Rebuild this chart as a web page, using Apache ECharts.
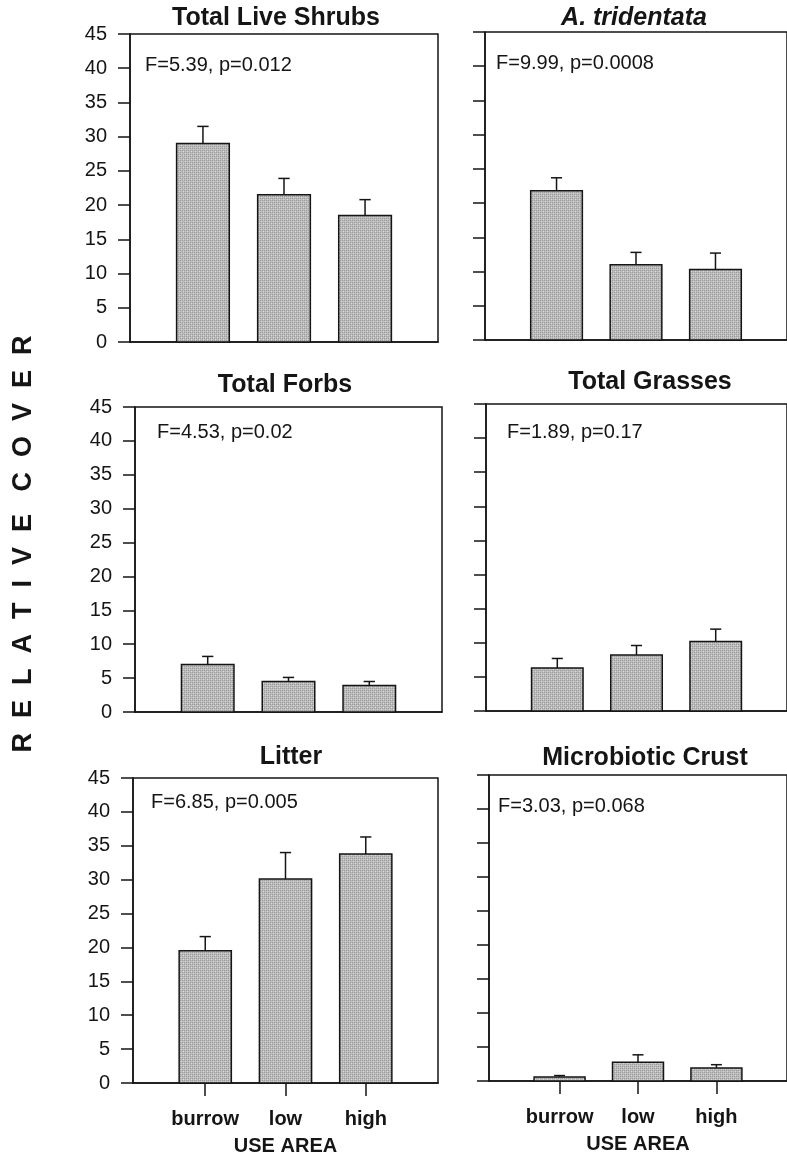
<!DOCTYPE html>
<html>
<head>
<meta charset="utf-8">
<script src="https://cdn.jsdelivr.net/npm/echarts@6/dist/echarts.min.js"></script>
<style>
html,body{margin:0;padding:0;background:#fff;}
#chart{width:787px;height:1157px;}
</style>
</head>
<body>
<div id="chart"></div>
<script>
// ---- data ----
const categories = ['burrow', 'low', 'high'];
const panelTitles = ['Total Live Shrubs', 'A. tridentata', 'Total Forbs', 'Total Grasses', 'Litter', 'Microbiotic Crust'];
const panelStats = ['F=5.39, p=0.012', 'F=9.99, p=0.0008', 'F=4.53, p=0.02', 'F=1.89, p=0.17', 'F=6.85, p=0.005', 'F=3.03, p=0.068'];
const shrubsMean = [29.0, 21.5, 18.5];
const shrubsSE = [2.5, 2.4, 2.3];
const tridentataMean = [21.8, 11.0, 10.3];
const tridentataSE = [1.9, 1.8, 2.4];
const forbsMean = [7.0, 4.5, 3.9];
const forbsSE = [1.2, 0.6, 0.6];
const grassesMean = [6.3, 8.2, 10.2];
const grassesSE = [1.4, 1.4, 1.8];
const litterMean = [19.5, 30.1, 33.8];
const litterSE = [2.1, 3.9, 2.5];
const crustMean = [0.6, 2.75, 1.9];
const crustSE = [0.2, 1.1, 0.5];
const yTicks = [0, 5, 10, 15, 20, 25, 30, 35, 40, 45];
const xAxisName = 'USE AREA';
const yAxisName = 'R  E  L  A  T  I  V  E   C  O  V  E  R';

const means = [shrubsMean, tridentataMean, forbsMean, grassesMean, litterMean, crustMean];
const ses = [shrubsSE, tridentataSE, forbsSE, grassesSE, litterSE, crustSE];

// ---- layout / style ----
const FONT = '"Liberation Sans", Arial, Helvetica, sans-serif';
const INK = '#151515';
const LW = 1.5;
const grids = [
  {left: 130, top: 34, width: 308, height: 308},
  {left: 485, top: 32, width: 306, height: 308},
  {left: 135, top: 407, width: 307, height: 305},
  {left: 486, top: 404, width: 306, height: 307},
  {left: 133, top: 778, width: 305, height: 306},
  {left: 489, top: 775, width: 305, height: 306}
];
const titlePos = [[276, 18], [634, 18], [285, 385], [650, 382], [291, 757], [645, 758]];
const statPos = [[145, 65], [496, 63], [157, 432], [507, 432], [151, 802], [498, 806]];

// stipple pattern for bars
const pc = document.createElement('canvas');
pc.width = 4; pc.height = 4;
const pctx = pc.getContext('2d');
pctx.fillStyle = '#bdbdbd'; pctx.fillRect(0, 0, 4, 4);
pctx.fillStyle = '#9a9a9a';
pctx.fillRect(0, 0, 1, 1); pctx.fillRect(2, 2, 1, 1); pctx.fillRect(2, 0, 1, 1); pctx.fillRect(0, 2, 1, 1);
pctx.fillStyle = '#d6d6d6';
pctx.fillRect(1, 1, 1, 1); pctx.fillRect(3, 3, 1, 1);
const barFill = {image: pc, repeat: 'repeat'};

const BAR_W = 0.65;   // fraction of category spacing
const CAP_W = 0.14;

const xAxes = [], yAxes = [], series = [], graphics = [];
for (let i = 0; i < 6; i++) {
  const bottomRow = i >= 4;
  const leftCol = i % 2 === 0;
  xAxes.push({
    type: 'value', gridIndex: i, min: -0.9, max: 2.9,
    axisLine: {show: true, onZero: false, lineStyle: {color: INK, width: LW}},
    axisTick: bottomRow ? {show: true, customValues: [0, 1, 2], length: 13, lineStyle: {color: INK, width: LW}} : {show: false},
    axisLabel: bottomRow ? {show: true, customValues: [0, 1, 2], formatter: v => categories[Math.round(v)] || '',
      fontFamily: FONT, fontSize: 20, fontWeight: 'bold', color: INK, margin: 26} : {show: false},
    splitLine: {show: false},
    name: bottomRow ? xAxisName : '',
    nameLocation: 'middle', nameGap: 53,
    nameTextStyle: {fontFamily: FONT, fontSize: 20, fontWeight: 'bold', color: INK}
  });
  yAxes.push({
    type: 'value', gridIndex: i, min: 0, max: 45, interval: 5,
    axisLine: {show: true, onZero: false, lineStyle: {color: INK, width: LW}},
    axisTick: {show: true, length: 12, lineStyle: {color: INK, width: LW}},
    axisLabel: {show: leftCol, fontFamily: FONT, fontSize: 20, color: INK, margin: 23,
      formatter: v => (yTicks.indexOf(v) >= 0 ? String(v) : '')},
    splitLine: {show: false}
  });
  const data = means[i].map((m, k) => [k, m, ses[i][k]]);
  series.push({
    type: 'custom', xAxisIndex: i, yAxisIndex: i, clip: false,
    data: data,
    renderItem: function (params, api) {
      const x = api.value(0), y = api.value(1), se = api.value(2);
      const base = api.coord([x, 0]);
      const top = api.coord([x, y]);
      const errTop = api.coord([x, y + se]);
      const w = api.size([BAR_W, 0])[0];
      const cw = api.size([CAP_W, 0])[0];
      return {
        type: 'group',
        children: [
          {type: 'line', shape: {x1: top[0], y1: top[1], x2: errTop[0], y2: errTop[1]},
            style: {stroke: INK, lineWidth: LW}},
          {type: 'line', shape: {x1: errTop[0] - cw / 2, y1: errTop[1], x2: errTop[0] + cw / 2, y2: errTop[1]},
            style: {stroke: INK, lineWidth: LW}},
          {type: 'rect', shape: {x: top[0] - w / 2, y: top[1], width: w, height: base[1] - top[1]},
            style: {fill: barFill, stroke: INK, lineWidth: LW}}
        ]
      };
    }
  });
  graphics.push({
    type: 'text', x: titlePos[i][0], y: titlePos[i][1],
    style: {text: panelTitles[i], fontFamily: FONT, fontSize: 25, fontWeight: 'bold',
      fontStyle: i === 1 ? 'italic' : 'normal', fill: INK, align: 'center', verticalAlign: 'middle'}
  });
  graphics.push({
    type: 'text', x: statPos[i][0], y: statPos[i][1],
    style: {text: panelStats[i], fontFamily: FONT, fontSize: 20, fill: INK, align: 'left', verticalAlign: 'middle'}
  });
}
graphics.push({
  type: 'text', x: 24, y: 544, rotation: Math.PI / 2,
  style: {text: yAxisName, fontFamily: FONT, fontSize: 27, fontWeight: 'bold', fill: INK, align: 'center', verticalAlign: 'middle'}
});

const chart = echarts.init(document.getElementById('chart'), null, {renderer: 'canvas'});
chart.setOption({
  animation: false,
  backgroundColor: '#fff',
  grid: grids.map(g => Object.assign({show: true, borderColor: INK, borderWidth: LW, backgroundColor: 'transparent'}, g)),
  xAxis: xAxes,
  yAxis: yAxes,
  series: series,
  graphic: graphics
});
</script>
</body>
</html>
